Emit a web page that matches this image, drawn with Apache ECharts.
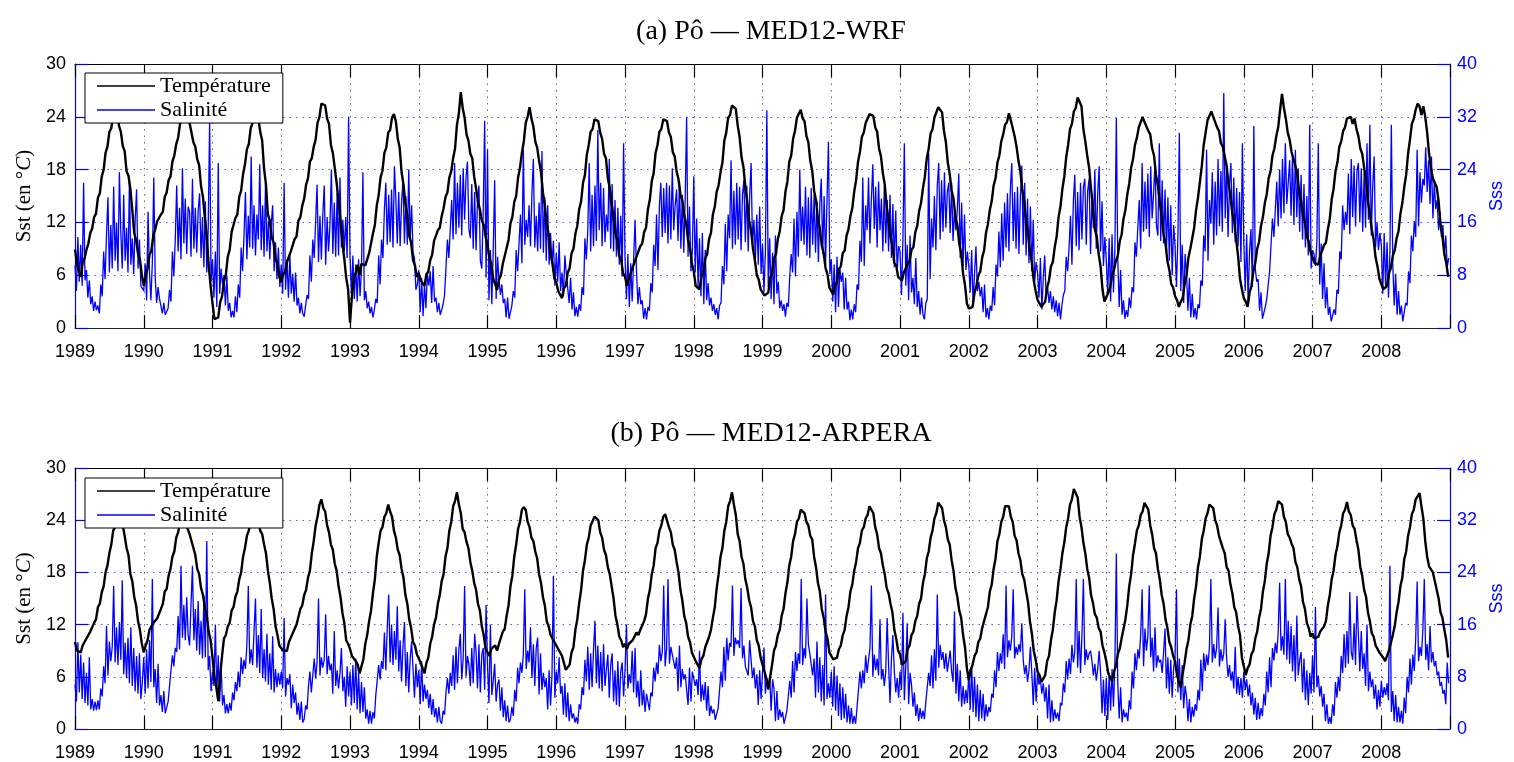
<!DOCTYPE html>
<html>
<head>
<meta charset="utf-8">
<script src="https://cdn.jsdelivr.net/npm/echarts@6/dist/echarts.min.js"></script>
<style>
  html, body { margin: 0; padding: 0; background: #ffffff; }
  #chart { width: 1514px; height: 762px; }
</style>
</head>
<body>
<div id="chart"></div>
<script>
// Po river mouth: sea surface temperature (left axis, °C) and
// sea surface salinity (right axis) for two coupled model runs, 1989–2008.
const START_YEAR = 1989;
const years = [1989, 1990, 1991, 1992, 1993, 1994, 1995, 1996, 1997, 1998,
               1999, 2000, 2001, 2002, 2003, 2004, 2005, 2006, 2007, 2008];
const panelTitles = ['(a) Pô — MED12-WRF', '(b) Pô — MED12-ARPERA'];
const seriesNames = ['Température', 'Salinité'];

// Temperature, one row per year, ~10-day steps (36 per year)
const sstWRF = [
  [8.9,7.4,6.4,5.8,7.4,7.9,8.9,9.6,10.8,11.3,12.6,13.0,14.8,15.3,17.2,18.0,19.9,20.6,22.3,22.7,24.1,24.3,25.4,23.0,22.3,20.7,20.1,17.8,17.3,15.8,13.4,10.8,10.0,8.4,7.8,6.0],
  [4.8,5.9,6.8,8.3,8.8,10.5,11.2,12.1,12.0,12.9,13.2,14.9,15.4,16.8,17.2,18.9,19.6,20.9,21.6,23.2,23.4,24.7,24.6,24.4,23.3,23.1,21.1,20.6,19.2,18.5,16.1,14.9,12.5,10.5,7.1,4.8],
  [2.8,1.0,1.1,1.2,2.9,3.6,5.3,6.1,8.1,8.9,10.9,11.1,12.5,12.9,14.9,15.6,17.5,18.6,20.3,20.9,22.7,23.3,24.4,24.1,23.8,22.3,21.3,18.1,16.3,12.9,12.2,10.3,9.7,7.9,7.3,5.8],
  [5.2,6.1,6.4,7.5,7.7,8.7,8.7,10.1,10.4,12.2,12.6,13.9,14.7,16.3,17.0,18.9,19.3,20.6,21.4,23.3,24.0,25.5,25.5,25.3,23.8,23.2,20.8,19.9,18.2,16.5,14.3,12.3,9.6,7.9,5.7,4.4],
  [0.6,3.6,5.9,6.2,7.2,6.0,7.3,7.1,7.1,7.3,8.5,8.7,10.7,11.7,13.9,15.1,17.1,17.9,19.9,20.5,22.2,22.5,23.9,24.3,23.5,21.5,20.5,17.7,16.3,14.1,12.9,10.5,9.7,7.7,7.1,5.8],
  [6.2,5.4,5.4,4.8,6.1,6.4,7.7,8.3,9.9,9.8,11.1,11.4,12.7,13.6,14.9,15.4,17.1,17.8,19.3,20.4,23.1,24.4,26.8,25.0,23.9,22.0,21.3,19.8,19.3,17.2,15.9,14.3,13.5,12.2,11.7,10.4],
  [9.4,8.0,7.2,5.6,5.0,4.3,5.5,6.0,7.3,7.4,9.1,10.0,11.9,12.6,14.3,15.0,17.1,18.2,19.9,21.2,23.3,24.0,25.1,23.8,22.9,21.2,20.5,19.0,17.7,15.4,13.9,11.8,10.7,8.4,7.3,5.6],
  [5.2,4.2,4.0,3.4,4.5,4.8,6.3,6.8,8.5,9.0,10.7,11.6,13.5,14.4,16.5,17.4,19.7,20.8,22.3,22.6,23.7,23.6,23.5,22.2,21.5,19.8,19.3,17.0,15.9,14.0,12.7,10.8,9.9,8.2,7.7,6.2],
  [5.8,4.8,5.6,5.8,6.9,7.0,8.1,8.2,9.3,9.6,10.9,11.4,13.5,14.6,16.7,17.6,19.9,20.8,22.3,22.6,23.7,23.6,23.5,22.2,21.7,20.0,19.5,17.8,16.9,15.2,14.5,12.8,11.9,10.0,9.1,7.4],
  [6.4,4.8,4.6,4.4,5.9,6.2,7.9,8.4,10.1,10.8,12.9,13.8,15.5,16.2,17.7,18.8,21.3,22.2,23.9,24.2,25.3,25.2,24.9,23.0,21.7,19.4,18.3,16.0,14.3,12.2,11.1,9.0,7.7,6.0,5.5,4.4],
  [4.6,3.7,3.8,4.0,5.7,6.2,7.9,8.4,10.1,11.0,12.7,13.4,15.5,16.6,18.9,19.6,21.5,22.4,23.9,24.0,24.8,23.8,23.5,21.8,21.1,19.0,17.9,15.6,14.5,12.4,11.3,9.4,8.5,6.8,6.1,4.6],
  [4.4,3.8,4.9,5.2,6.7,7.0,8.5,8.8,10.5,11.2,12.7,13.6,15.5,16.8,18.9,20.0,21.7,22.2,23.3,23.4,24.3,24.1,24.1,22.8,22.3,20.4,19.5,17.6,16.3,13.8,12.3,10.4,9.3,7.4,7.1,5.8],
  [6.0,5.4,6.3,6.2,7.3,7.6,8.9,9.2,10.9,11.6,13.3,14.2,15.9,17.2,19.3,20.4,22.1,22.6,23.9,24.0,25.1,24.8,24.5,22.4,21.1,18.8,17.5,15.6,14.7,12.6,11.7,9.6,8.5,6.2,4.9,2.8],
  [2.2,2.2,2.4,4.0,4.8,6.0,6.4,8.0,8.8,10.8,11.8,13.4,14.4,16.2,17.0,18.8,19.6,21.2,22.0,23.1,23.4,24.4,23.6,23.4,21.8,20.6,19.0,17.8,15.8,14.4,12.2,10.8,8.8,7.4,5.4,4.2],
  [3.2,3.2,2.4,2.6,3.0,4.6,5.4,7.0,7.5,9.2,10.4,12.6,13.8,15.8,17.2,19.4,20.8,22.6,23.2,24.6,25.0,26.2,26.3,25.2,22.6,21.2,19.6,18.2,15.8,13.8,11.2,10.4,8.4,7.0,4.4,3.0],
  [2.8,4.0,4.6,6.0,6.6,7.6,8.2,9.8,10.6,12.4,13.4,15.2,16.4,18.2,19.2,20.8,21.6,22.8,23.0,24.0,23.4,23.6,22.4,22.0,20.4,19.6,17.4,16.2,14.2,12.8,10.6,9.6,7.6,6.6,5.0,4.6],
  [3.6,3.2,2.4,3.0,3.4,5.0,6.0,8.0,9.0,10.2,11.4,13.4,14.8,16.6,18.4,20.8,22.2,23.6,23.8,24.6,24.0,23.8,22.8,22.4,21.0,20.6,19.5,18.4,16.4,15.0,13.0,12.2,10.0,8.2,5.6,4.4],
  [3.4,3.0,2.4,4.0,4.8,6.4,7.4,9.0,9.8,11.6,12.6,14.2,15.2,17.0,17.8,19.6,20.4,21.8,22.8,24.8,26.6,25.0,23.8,22.2,21.4,20.0,19.8,18.4,17.4,15.4,14.4,12.8,12.0,10.4,9.8,8.6],
  [8.6,7.4,7.2,7.2,8.2,8.4,9.4,9.7,11.2,12.4,14.6,15.8,17.8,18.8,20.6,21.2,22.4,22.8,23.8,23.8,24.0,23.2,23.8,22.6,21.8,20.4,19.8,18.2,16.8,14.4,13.0,11.2,10.0,8.0,7.0,5.6],
  [5.4,4.4,4.6,4.8,6.2,6.8,8.2,8.8,10.2,11.0,13.0,14.2,16.0,17.4,19.8,21.4,23.2,23.8,24.8,25.5,25.2,24.2,25.2,24.0,22.2,19.8,18.2,17.0,16.9,16.0,14.4,11.7,10.4,8.4,7.4,5.8]
];

const sstARPERA = [
  [10.0,9.0,8.9,8.8,9.6,9.6,10.4,10.4,11.2,11.2,12.2,12.6,14.0,14.4,15.7,16.4,18.0,18.8,20.2,21.2,22.8,23.2,24.8,25.6,25.2,23.4,22.2,20.8,20.0,17.8,17.0,15.2,14.2,12.4,11.4,9.8],
  [8.8,9.6,10.2,11.4,11.6,12.2,12.0,12.7,12.6,13.8,14.4,15.8,16.1,17.6,18.4,19.8,20.4,22.0,22.6,23.8,23.8,24.4,23.6,23.4,22.4,22.2,20.8,20.0,18.4,17.8,16.2,15.4,14.0,13.0,11.2,10.2],
  [8.2,6.0,4.8,3.2,6.2,8.4,10.4,10.8,11.8,12.2,13.6,14.0,15.2,15.8,17.2,18.0,19.8,20.8,22.2,22.8,24.0,24.4,25.2,24.2,23.8,22.8,22.4,21.2,20.2,18.2,16.8,15.0,13.8,11.8,10.8,9.6],
  [9.6,9.0,9.0,9.0,10.0,10.0,11.0,11.2,12.0,12.2,13.8,14.2,15.4,16.0,17.4,18.2,20.2,21.6,23.4,24.4,25.8,26.4,25.4,25.0,23.4,22.6,21.2,20.6,19.0,18.2,16.4,15.2,13.4,12.2,10.2,9.8],
  [9.2,8.4,8.6,7.8,7.4,6.4,7.2,8.0,9.8,10.8,12.4,13.6,15.6,17.2,19.8,21.4,22.8,23.2,24.4,24.8,25.8,25.0,24.4,22.8,22.0,20.6,20.0,18.4,17.4,15.4,14.4,12.6,11.6,10.0,9.6,8.6],
  [8.6,7.6,7.4,6.4,7.6,8.2,9.8,10.6,12.0,12.8,14.4,15.4,17.0,17.8,19.8,20.8,22.8,23.8,25.6,26.2,27.2,25.8,24.8,23.0,22.6,21.5,20.8,19.2,18.2,16.8,16.0,14.4,13.6,11.8,10.8,9.2],
  [9.0,8.4,9.2,9.0,9.6,9.0,9.8,10.0,11.2,11.5,13.0,14.2,16.4,17.6,19.8,21.2,23.0,23.8,25.2,25.5,25.2,23.8,23.2,22.0,21.6,20.4,19.6,17.8,16.8,15.2,14.2,12.4,11.8,10.8,10.8,10.0],
  [9.8,9.2,9.2,8.4,8.2,6.8,7.0,7.4,8.8,9.4,11.4,12.6,14.5,16.0,18.2,19.4,21.2,22.0,23.4,23.6,24.4,24.3,24.0,22.6,22.0,20.6,20.0,18.6,17.8,16.4,15.0,13.0,12.0,10.6,10.2,9.4],
  [9.8,9.2,9.8,9.6,10.2,10.2,11.1,10.8,11.4,11.4,12.4,13.2,15.0,16.0,17.8,18.8,20.8,21.4,22.8,23.4,24.4,24.7,24.6,23.2,22.6,21.2,20.6,19.2,18.0,16.0,14.8,13.0,12.2,10.6,10.0,8.8],
  [8.8,7.8,7.6,7.0,8.0,8.4,9.4,9.4,10.6,11.4,12.8,14.0,16.2,17.8,19.8,20.8,22.8,23.8,25.6,26.2,27.2,25.8,24.6,22.4,21.6,19.8,19.0,17.2,16.2,14.8,14.0,12.4,11.8,10.2,9.6,8.2],
  [8.2,6.6,5.8,4.6,6.0,7.4,9.0,9.6,10.8,11.4,13.0,13.8,15.6,16.8,18.8,19.8,21.6,22.4,23.8,24.2,25.2,25.1,24.8,23.8,23.4,22.2,21.8,19.8,18.6,16.8,15.8,13.8,12.8,11.2,10.4,8.8],
  [8.8,8.0,8.2,8.2,9.2,9.6,10.8,11.4,13.0,14.0,15.8,16.6,18.2,19.2,20.8,21.4,22.8,23.2,24.2,24.6,25.6,25.5,24.8,23.2,22.4,20.8,20.2,18.8,17.8,16.2,15.6,14.4,13.4,11.4,10.4,9.0],
  [8.6,7.4,7.4,7.8,9.2,9.6,10.8,11.2,12.4,13.0,14.4,15.0,16.8,17.8,19.6,20.4,22.0,22.8,24.2,24.8,26.0,26.0,25.4,24.0,23.2,21.8,21.2,19.4,18.2,16.2,15.2,13.6,12.8,10.8,9.4,7.0],
  [5.6,6.8,7.4,8.4,8.8,10.0,10.4,11.6,11.8,13.2,14.0,15.8,16.6,18.4,19.6,21.6,22.4,23.8,24.4,25.6,25.8,25.6,24.4,23.8,22.2,21.7,20.2,19.4,17.8,17.2,15.8,14.6,12.4,11.0,9.0,8.0],
  [6.6,6.2,5.4,5.5,6.2,7.8,8.4,10.2,11.4,13.4,14.8,17.0,18.4,20.2,21.4,23.2,24.2,25.8,26.4,27.6,27.5,26.6,24.4,23.2,21.4,20.2,18.4,17.4,15.4,14.5,13.2,12.8,11.6,11.2,9.6,8.8],
  [7.8,6.4,6.2,5.5,6.6,7.2,8.6,9.2,10.4,10.6,12.6,14.2,16.4,17.8,20.0,21.3,22.8,23.4,24.6,25.0,26.0,26.0,25.2,23.4,22.4,20.8,20.2,18.4,17.2,15.4,14.4,12.6,11.6,10.0,9.4,8.4],
  [7.8,6.2,5.4,4.8,6.4,7.6,9.2,10.2,12.0,13.0,15.0,16.4,18.6,19.8,21.8,22.8,24.2,24.8,25.8,25.8,25.4,24.0,23.4,22.2,22.1,20.8,20.2,18.6,18.2,16.6,15.6,14.0,13.4,11.8,10.8,8.2],
  [7.2,6.2,7.0,7.4,8.6,9.0,10.4,11.2,12.8,13.8,15.8,17.0,19.0,20.2,22.2,23.2,24.7,25.2,26.2,26.2,25.8,24.4,23.8,22.4,22.0,21.3,20.8,19.2,18.6,17.2,16.4,14.6,13.8,12.2,11.6,10.6],
  [11.0,10.4,10.6,10.6,11.2,11.0,11.8,12.4,14.2,15.4,17.2,18.2,20.0,21.0,22.6,23.4,24.8,25.2,26.1,25.0,24.6,23.4,23.0,21.7,20.6,18.6,17.6,16.0,15.2,13.4,12.4,11.0,10.6,9.6,9.6,8.8],
  [9.0,8.2,7.8,8.0,9.0,9.2,10.8,11.8,13.4,14.6,16.4,17.4,19.5,20.4,22.2,23.2,24.7,25.2,26.4,26.6,27.1,25.6,24.2,21.6,19.8,18.7,18.8,18.0,17.8,16.0,15.0,13.4,12.8,11.4,10.2,8.2]
];

// Salinity, one row per year, weekly steps (48 per year)
const sssWRF = [
  [9.5,5.6,13.8,7.0, 12.6,6.4,22.0,7.2, 8.8,4.6,7.2,3.6, 4.8,2.6,4.0,2.7, 3.4,2.2,6.6,4.8, 11.6,7.4,14.2,19.8, 8.4,15.6,9.0,21.4, 10.2,16.0,8.6,23.6, 14.4,9.0,20.2,10.2, 15.2,8.4,22.4,9.6, 13.6,8.2,16.4,21.0, 9.0,13.4,6.4,6.3],
  [5.6,9.8,4.2,17.6, 8.4,4.2,10.0,22.8, 7.6,3.8,6.2,4.4, 4.6,2.2,3.8,2.0, 1.7,3.0,5.8,4.0, 11.6,7.8,13.4,21.6, 11.6,18.2,10.4,24.2, 12.8,19.6,11.2,18.4, 17.6,10.8,22.6,12.0, 18.2,11.4,17.8,20.4, 10.6,16.8,9.2,19.2, 8.4,15.2,31.4,7.0],
  [10.4,4.6,11.6,3.2, 25.0,5.2,9.0,6.6, 8.0,3.4,8.0,2.6, 3.8,1.6,2.6,1.6, 4.8,2.4,6.6,4.6, 12.2,8.6,14.0,20.6, 10.4,17.0,12.2,26.0, 12.0,18.6,11.0,17.2, 13.4,24.8,11.8,18.6, 10.8,22.0,11.6,16.2, 10.4,15.8,18.6,8.6, 13.0,7.4,12.2,6.2],
  [9.6,5.2,22.0,5.8, 10.4,4.6,11.0,5.2, 8.2,4.0,8.4,3.4, 4.6,2.2,3.8,2.2, 1.7,3.4,5.0,4.4, 11.0,7.0,13.4,10.6, 16.2,21.7,10.0,17.0, 10.4,17.2,21.6,9.6, 16.8,11.6,15.6,24.0, 11.2,19.0,10.8,20.4, 11.0,22.8,12.2,16.4, 11.6,16.8,10.6,32.0],
  [10.8,5.2,11.0,4.4, 9.6,4.0,10.4,4.8, 8.8,23.6,4.2,5.6, 3.0,4.0,2.2,3.2, 1.6,2.8,4.4,3.8, 11.0,6.6,13.4,10.6, 18.0,22.0,12.6,20.2, 13.0,21.0,12.2,24.5, 19.6,12.8,20.6,12.4, 19.2,22.4,12.8,20.0, 12.6,24.0,13.4,18.6, 11.4,10.6,5.8,6.6],
  [8.8,2.4,7.6,1.8, 6.6,3.0,8.2,6.4, 8.6,3.8,9.4,4.0, 4.6,2.4,3.8,2.0, 1.7,3.6,5.0,5.2, 13.4,10.6,15.0,19.4, 13.4,25.0,14.2,22.0, 15.2,23.2,14.0,24.2, 16.4,22.8,25.2,15.0, 13.6,21.8,12.0,20.6, 11.8,19.2,21.6,10.2, 9.0,17.6,31.4,7.6],
  [27.0,4.2,11.8,3.6, 12.0,22.4,4.4,10.8, 7.4,5.0,6.6,3.8, 4.4,1.6,4.6,1.4, 1.3,3.4,5.6,4.6, 11.8,8.6,12.8,17.2, 9.8,27.0,12.6,16.4, 13.8,18.6,12.4,20.4, 25.6,12.2,17.0,11.6, 19.0,12.0,26.8,11.4, 19.8,10.2,18.6,9.6, 14.4,9.8,13.2,6.4],
  [11.4,7.0,13.0,5.6, 8.4,4.8,11.0,8.2, 8.2,3.8,7.6,2.8, 5.4,1.8,3.2,1.7, 3.6,2.6,6.2,5.0, 13.6,10.4,14.8,25.0, 11.6,20.2,12.4,21.6, 13.2,30.0,14.8,22.0, 12.4,21.2,13.0,17.2, 14.6,25.6,12.0,21.8, 11.6,19.4,10.8,18.2, 9.6,17.0,7.8,28.0],
  [10.6,4.4,11.2,3.2, 9.8,4.0,10.4,16.4, 8.6,3.6,6.2,3.6, 4.2,1.4,3.0,1.3, 3.2,2.6,6.8,5.4, 12.6,9.4,17.2,8.8, 18.6,22.0,13.8,21.2, 14.4,22.0,12.8,21.6, 13.4,24.2,14.8,18.6, 21.0,13.2,22.2,12.0, 20.2,11.4,19.6,32.0, 10.8,18.4,8.6,11.8],
  [23.0,8.4,16.6,6.2, 13.6,4.8,14.4,3.6, 11.8,4.2,6.8,3.4, 4.6,2.6,3.6,2.0, 3.0,1.3,3.4,3.8, 9.4,6.6,15.8,8.6, 17.2,13.6,25.4,12.0, 20.8,12.6,22.0,13.4, 21.4,11.8,20.2,22.4, 13.0,21.6,11.6,20.0, 25.0,12.8,16.4,10.4, 17.2,9.6,18.4,8.2],
  [12.8,5.4,11.6,33.0, 6.2,13.6,4.4,11.4, 3.6,14.0,5.2,7.0, 3.0,4.2,2.6,3.6, 1.7,3.8,3.2,7.8, 11.2,8.4,16.6,7.8, 17.6,10.8,24.0,13.2, 18.4,12.6,21.4,11.0, 19.8,10.6,21.2,12.6, 20.2,11.4,19.2,10.0, 18.8,22.6,11.2,20.0, 9.6,19.4,28.2,8.2],
  [10.4,4.0,9.6,2.4, 10.8,3.2,9.0,7.0, 8.4,2.8,7.6,2.8, 4.0,1.2,2.8,1.3, 3.6,2.4,6.6,5.8, 13.2,10.0,22.8,9.4, 18.6,14.8,22.8,12.8, 19.6,24.8,15.0,21.4, 12.2,22.2,14.8,19.6, 11.6,21.4,12.8,19.4, 11.6,20.2,10.6,18.8, 9.2,17.8,8.6,12.4],
  [11.6,5.0,13.4,28.0, 6.4,12.6,4.2,14.0, 5.4,7.6,3.6,10.6, 3.2,5.6,2.0,4.6, 2.0,1.3,3.8,4.4, 26.5,7.4,16.6,12.2, 20.0,11.8,21.6,25.0, 13.4,22.4,14.6,23.6, 15.2,20.6,22.0,14.4, 22.0,13.2,17.8,14.8, 18.0,23.4,10.6,19.0, 9.4,17.2,8.8,11.6],
  [9.4,5.4,11.8,3.6, 8.2,12.4,5.6,7.0, 4.8,6.2,2.4,6.6, 1.6,3.0,1.3,3.4, 2.6,6.2,3.4,9.6, 7.8,14.6,9.2,17.4, 10.2,19.0,12.2,20.4, 11.6,21.0,25.0,13.2, 20.6,12.0,21.4,11.2, 19.8,24.6,12.6,22.0, 11.0,19.6,9.8,18.4, 8.6,16.4,7.0,10.0],
  [8.4,4.6,10.6,2.8, 7.6,11.0,4.8,6.2, 3.8,5.6,2.8,4.8, 2.4,4.2,1.8,3.8, 1.3,3.4,5.0,5.6, 10.8,8.6,12.2,17.0, 9.6,19.2,23.2,12.4, 20.6,11.8,22.0,13.4, 21.4,22.6,12.6,20.8, 22.6,11.2,19.8,15.2, 24.0,12.0,20.4,24.5, 11.6,19.2,9.4,13.8],
  [10.2,5.2,13.6,4.0, 14.2,5.4,12.0,31.8, 10.6,3.2,8.8,2.0, 4.2,1.4,2.7,1.7, 4.6,3.0,6.2,5.4, 13.0,10.8,15.2,19.4, 12.0,25.0,14.6,22.2, 15.0,23.4,13.8,24.5, 16.6,20.4,25.2,15.6, 14.0,28.0,13.2,22.4, 12.8,21.0,11.4,19.8, 10.2,18.6,8.0,15.6],
  [12.4,6.2,14.0,29.6, 5.6,12.6,3.8,11.2, 8.4,2.6,7.6,1.6, 5.2,1.6,3.0,1.3, 3.6,3.0,7.2,6.4, 14.0,11.6,27.0,10.2, 19.4,15.8,23.6,12.6, 22.2,14.0,25.6,15.4, 23.8,14.6,35.6,16.6, 24.4,13.8,21.8,25.0, 14.4,22.8,13.0,21.2, 12.4,20.6,10.0,28.0],
  [13.0,5.6,14.2,4.0, 11.6,15.0,6.2,30.6, 9.0,7.0,7.4,2.6, 5.4,1.4,1.3,3.2, 4.4,4.2,8.6,8.4, 16.6,13.8,18.0,22.2, 15.4,24.0,16.6,25.6, 17.4,28.0,18.8,22.0, 25.4,17.0,26.2,15.6, 27.0,16.8,24.2,14.6, 23.2,13.4,21.8,12.2, 20.0,11.0,30.8,9.0],
  [11.8,11.2,9.4,13.0, 28.0,6.6,12.8,4.4, 9.8,3.0,6.2,2.0, 3.2,1.0,0.9,2.8, 2.0,5.8,5.2,11.6, 10.4,18.6,14.8,17.6, 15.6,23.4,14.2,25.6, 16.8,24.6,15.4,23.8, 25.0,16.0,24.2,14.6, 23.6,15.2,28.0,16.4, 30.8,14.0,21.6,26.0, 12.2,16.0,11.8,14.4],
  [12.6,5.2,14.4,6.0, 13.0,4.6,11.4,30.8, 9.6,3.4,8.2,2.0, 5.6,2.0,3.4,1.0, 1.3,3.8,3.4,8.6, 6.8,14.0,11.6,16.2, 13.8,27.0,15.4,23.6, 19.0,22.6,21.6,27.4, 20.6,25.4,18.8,26.0, 16.6,22.0,18.0,19.4, 14.8,17.6,13.8,15.6, 11.0,14.0,9.2,10.6]
];

const sssARPERA = [
  [6.8,4.2,13.3,5.6, 11.4,4.6,10.2,4.0, 8.6,3.6,11.0,3.0, 4.6,2.8,4.2,2.9, 4.4,3.0,6.2,5.0, 9.6,7.0,15.8,8.2, 13.4,10.4,12.6,21.9, 10.2,15.6,9.8,16.4, 10.6,22.8,8.4,13.2, 7.8,14.0,7.0,15.6, 6.6,12.4,5.8,11.2, 5.4,11.6,4.6,7.2],
  [11.0,5.4,12.2,6.2, 13.6,7.2,23.0,6.4, 9.2,4.0,10.0,3.6, 5.2,2.6,5.8,2.4, 2.4,4.2,6.6,6.8, 11.3,9.6,12.4,11.8, 17.3,12.2,25.0,14.0, 19.0,13.6,20.2,14.4, 12.8,19.2,25.0,13.6, 18.4,12.0,19.6,11.4, 16.6,10.8,20.4,11.0, 28.8,9.0,11.2,5.8],
  [8.8,6.6,16.0,5.4, 11.3,4.2,9.8,3.6, 5.2,2.4,3.8,2.4, 4.0,2.8,5.6,4.4, 7.2,5.8,8.8,6.4, 11.0,8.4,10.6,9.2, 12.9,21.9,10.0,12.2, 9.8,15.0,20.0,9.4, 14.4,8.6,18.4,7.8, 12.2,7.3,14.6,6.8, 11.6,6.0,14.2,5.6, 9.2,6.4,8.6,6.8],
  [8.8,6.2,17.0,5.0, 7.8,6.8,8.4,3.2, 6.8,4.0,5.6,2.2, 4.0,1.4,4.2,1.0, 1.5,3.6,3.0,6.6, 8.8,5.6,8.2,10.8, 7.7,10.4,20.0,8.2, 11.0,9.4,10.6,17.6, 8.4,11.2,9.0,10.0, 5.4,15.0,6.6,9.0, 6.2,8.6,12.4,5.8, 8.0,3.4,9.6,5.0],
  [8.8,3.6,9.8,4.0, 10.8,3.0,8.6,2.4, 7.2,2.6,6.4,1.6, 3.0,0.8,2.8,0.8, 2.6,1.6,5.2,5.2, 9.8,7.6,10.4,9.2, 14.8,9.0,15.6,20.6, 10.2,16.0,9.8,15.0, 10.6,18.8,8.8,13.6, 7.3,12.8,16.4,6.6, 11.8,5.6,10.8,13.4, 9.2,4.8,10.0,6.4],
  [9.0,3.8,10.4,4.2, 6.8,4.6,6.0,3.2, 5.4,2.2,4.6,1.8, 3.2,1.0,3.4,1.2, 0.8,2.8,2.2,5.6, 7.8,5.4,8.6,6.6, 11.3,6.0,12.6,7.0, 12.2,14.6,7.6,10.8, 21.9,8.0,11.2,9.8, 6.6,12.4,7.0,14.6, 11.8,6.2,13.0,5.6, 11.4,12.4,6.0,19.0],
  [9.8,4.0,16.0,5.2, 7.4,10.0,4.2,6.8, 7.6,2.8,6.4,1.8, 4.4,1.2,3.6,1.0, 1.5,3.4,2.0,6.0, 4.2,9.4,7.0,10.2, 8.6,11.4,21.4,9.2, 12.0,10.2,15.6,7.8, 13.0,6.6,12.4,14.0, 5.3,11.6,6.0,8.6, 6.4,7.8,3.0,9.0, 3.6,8.2,23.5,4.8],
  [8.8,7.0,11.0,5.4, 6.6,2.2,7.0,1.8, 5.6,1.2,3.8,1.6, 2.4,1.0,1.8,0.8, 3.8,3.0,6.4,5.2, 10.6,7.3,12.6,6.0, 11.6,6.4,12.2,16.6, 7.0,12.8,6.2,11.8, 5.8,13.0,6.6,9.2, 11.4,4.8,9.8,11.6, 4.2,9.0,3.7,10.4, 3.4,8.8,10.2,5.0],
  [9.0,16.0,6.2,8.4, 7.0,12.0,5.6,12.4, 4.8,7.4,3.4,9.0, 3.6,6.0,2.6,5.4, 4.2,2.9,5.6,5.0, 9.4,7.3,10.2,8.4, 12.9,10.4,11.8,22.0, 9.6,12.2,23.0,10.0, 12.6,11.4,11.6,9.2, 11.0,5.8,12.8,6.4, 9.2,7.6,8.4,6.0, 3.7,9.4,4.2,8.8],
  [8.8,6.6,7.6,5.2, 12.0,4.2,6.8,4.4, 7.2,2.8,6.6,2.0, 3.6,2.4,3.0,1.4, 1.5,3.2,3.0,8.8, 6.4,12.6,7.4,14.0, 10.5,13.2,12.6,22.0, 11.2,14.0,13.0,13.6, 12.4,21.6,10.8,12.8, 9.6,9.8,8.2,13.6, 10.6,7.8,9.4,6.2, 8.4,3.7,9.0,4.6],
  [8.8,12.5,5.4,7.8, 6.0,8.0,2.8,7.6, 6.2,1.2,5.8,1.4, 3.0,1.8,2.6,0.8, 0.8,2.8,2.6,7.4, 4.8,10.4,5.6,11.8, 8.9,11.6,10.0,23.0, 9.8,12.4,10.8,20.0, 13.0,11.6,11.4,8.2, 10.8,4.8,13.4,5.6, 11.0,4.2,9.8,3.6, 20.6,4.6,7.0,4.8],
  [8.8,3.4,9.6,2.8, 8.2,2.0,7.0,1.4, 6.4,1.6,5.4,1.0, 3.6,0.8,3.2,0.8, 2.0,0.8,3.4,3.6, 8.8,6.2,9.0,7.0, 11.3,8.6,10.6,12.4, 22.0,8.0,11.4,9.0, 10.8,8.2,16.8,7.6, 9.2,6.6,8.8,17.0, 9.8,4.0,10.8,14.4, 8.8,5.6,7.8,4.8],
  [8.8,6.0,17.8,4.4, 9.6,16.2,3.8,8.6, 6.8,3.4,5.6,2.0, 3.8,1.2,3.2,1.6, 2.8,1.5,4.2,4.2, 8.6,6.6,11.3,6.2, 12.2,7.4,20.6,9.4, 12.9,10.6,11.8,9.2, 11.6,8.8,10.4,12.0, 8.8,7.2,18.0,5.4, 10.0,4.2,9.0,3.4, 6.6,3.8,6.0,4.0],
  [8.8,3.0,9.8,2.6, 8.0,1.8,6.8,1.2, 6.0,1.6,5.4,1.2, 3.8,1.9,3.4,2.6, 5.4,4.8,9.0,6.4, 11.8,8.9,11.6,10.0, 14.5,9.2,22.0,11.0, 13.6,12.0,14.2,21.4, 10.8,12.6,11.4,13.0, 11.8,16.2,10.6,8.4, 9.8,7.2,9.0,12.6, 8.6,3.7,9.4,4.2],
  [8.8,6.8,7.6,5.4, 7.0,4.2,6.4,1.6, 6.8,1.0,4.4,1.2, 3.0,1.6,2.5,1.2, 4.0,3.6,7.0,5.6, 10.4,7.6,10.8,8.4, 12.9,10.2,11.8,23.0, 9.4,15.0,8.6,14.4, 23.0,9.8,12.2,10.6, 11.6,12.0,10.4,8.2, 10.0,7.4,9.2,12.0, 8.6,2.4,7.6,2.0],
  [7.8,1.4,8.6,2.8, 9.2,3.4,10.0,26.9, 7.0,1.6,6.4,1.0, 3.0,1.8,2.5,1.2, 4.4,3.0,8.8,6.2, 11.6,9.0,12.2,10.8, 14.5,21.4,9.6,15.4, 12.0,14.2,22.0,11.0, 14.0,8.8,15.6,9.4, 11.3,10.2,10.6,8.6, 11.8,15.4,6.2,11.0, 5.4,10.6,4.8,9.3],
  [11.3,21.4,5.6,10.8, 4.4,9.8,3.2,6.6, 5.0,1.2,4.6,1.0, 3.4,1.9,3.8,2.8, 6.0,4.4,10.6,5.8, 11.6,8.9,11.4,9.8, 12.6,23.0,10.2,13.0, 10.8,12.4,18.6,9.6, 12.2,10.4,11.6,16.8, 10.8,8.0,9.8,7.4, 8.8,6.2,12.6,5.4, 8.0,5.2,7.8,4.8],
  [8.8,6.0,7.6,5.0, 6.8,3.6,5.6,2.2, 4.8,1.4,4.0,1.5, 3.2,2.0,5.4,3.6, 8.8,5.6,11.0,6.4, 12.4,10.5,13.2,11.6, 14.8,22.4,12.0,14.2, 11.4,23.0,10.6,16.6, 10.0,15.8,8.8,14.4, 7.3,17.4,8.2,10.6, 11.8,5.6,10.8,4.4, 9.0,3.7,8.6,5.4],
  [11.3,5.6,18.7,6.4, 8.2,5.0,6.6,3.4, 5.4,1.2,3.8,0.8, 1.8,0.8,3.8,2.0, 7.2,4.8,8.0,5.8, 11.2,8.6,14.5,9.4, 15.0,10.0,21.0,11.8, 10.6,16.2,9.8,20.4, 14.4,8.8,15.0,9.2, 11.6,6.6,16.0,5.8, 8.8,6.4,7.6,4.6, 6.8,3.0,6.0,3.4],
  [7.4,4.8,6.4,5.2, 7.0,4.4,25.0,2.6, 5.8,1.2,5.2,1.0, 3.4,1.0,2.8,0.8, 4.8,2.4,8.0,5.6, 10.8,6.8,11.4,8.9, 13.8,22.6,10.4,12.6, 11.2,15.2,23.0,10.6, 13.0,9.0,15.8,10.2, 11.8,9.6,10.4,8.2, 8.8,6.6,7.2,5.4, 6.0,3.8,10.2,7.0]
];

// Place each yearly row on a fractional-year time axis
function toPoints(rows) {
  const pts = [];
  rows.forEach((row, y) => {
    row.forEach((v, k) => pts.push([START_YEAR + y + k / row.length, v]));
  });
  return pts;
}

const BLUE = '#0000ff';
const SERIF = '"Liberation Serif", "Times New Roman", serif';
const SANS = '"Liberation Sans", Arial, Helvetica, sans-serif';

const grids = [
  { left: 75, right: 57, top: 64, height: 264 },
  { left: 75, right: 57, top: 468, height: 265 }
];

function bottomAxis(gridIndex) {
  return {
    type: 'value', gridIndex, position: 'bottom',
    min: START_YEAR, max: START_YEAR + years.length, interval: 1,
    axisLine: { show: true, onZero: false, lineStyle: { color: '#222', width: 1 } },
    axisTick: { show: true, inside: true, length: 13, lineStyle: { color: '#000', width: 1.2 } },
    axisLabel: {
      show: true, margin: 15, color: '#000', fontFamily: SANS, fontSize: 18,
      formatter: v => (years.indexOf(v) >= 0 ? String(v) : '')
    },
    splitLine: { show: true, lineStyle: { color: '#666', width: 1, type: [1.5, 5] } }
  };
}
function topAxis(gridIndex) {
  return {
    type: 'value', gridIndex, position: 'top',
    min: START_YEAR, max: START_YEAR + years.length, interval: 1,
    axisLine: { show: true, onZero: false, lineStyle: { color: '#000', width: 1 } },
    axisTick: { show: true, inside: true, length: 13, lineStyle: { color: '#000', width: 1.2 } },
    axisLabel: { show: false },
    splitLine: { show: false }
  };
}
function leftAxis(gridIndex) {
  return {
    type: 'value', gridIndex, position: 'left',
    min: 0, max: 30, interval: 6,
    name: '{a|Sst (en °}{b|C}{a|)}',
    nameLocation: 'middle', nameGap: 38, nameRotate: 90,
    nameTextStyle: {
      rich: {
        a: { fontFamily: SERIF, fontSize: 21, color: '#000' },
        b: { fontFamily: SERIF, fontSize: 21, fontStyle: 'italic', color: '#000' }
      }
    },
    axisLine: { show: true, onZero: false, lineStyle: { color: BLUE, width: 1.2 } },
    axisTick: { show: true, inside: true, length: 13, lineStyle: { color: BLUE, width: 1.2 } },
    axisLabel: { margin: 9, color: '#000', fontFamily: SANS, fontSize: 18 },
    splitLine: { show: true, lineStyle: { color: '#5555ff', width: 1, type: [1.5, 5] } }
  };
}
function rightAxis(gridIndex) {
  return {
    type: 'value', gridIndex, position: 'right',
    min: 0, max: 40, interval: 8,
    name: 'Sss',
    nameLocation: 'middle', nameGap: 36, nameRotate: 90,
    nameTextStyle: { fontFamily: SANS, fontSize: 18, color: BLUE },
    axisLine: { show: true, onZero: false, lineStyle: { color: BLUE, width: 1.2 } },
    axisTick: { show: true, inside: true, length: 13, lineStyle: { color: BLUE, width: 1.2 } },
    axisLabel: { margin: 7, color: BLUE, fontFamily: SANS, fontSize: 18 },
    splitLine: { show: false }
  };
}

function legendBox(top) {
  return {
    data: seriesNames,
    orient: 'vertical',
    left: 85, top: top,
    icon: 'rect', itemWidth: 58, itemHeight: 1.6, itemGap: 2,
    padding: [2, 12, 2, 12],
    backgroundColor: '#ffffff', borderColor: '#000', borderWidth: 1, borderRadius: 0,
    selectedMode: false,
    textStyle: { fontFamily: SERIF, fontSize: 22, color: '#000', lineHeight: 20, padding: [0, 0, 0, 0] }
  };
}

function titleText(text, top) {
  return {
    text, left: 766, top, textAlign: 'center',
    textStyle: { fontFamily: SERIF, fontSize: 28, fontWeight: 'normal', color: '#000', lineHeight: 30 }
  };
}

function lineSeries(name, data, xi, yi, color, width, z) {
  return {
    name, type: 'line', xAxisIndex: xi, yAxisIndex: yi,
    data, showSymbol: false, symbol: 'none', color,
    itemStyle: { color },
    lineStyle: { color, width },
    z, silent: true
  };
}

const chart = echarts.init(document.getElementById('chart'), null, { renderer: 'canvas' });
chart.setOption({
  animation: false,
  backgroundColor: '#ffffff',
  title: [titleText(panelTitles[0], 12), titleText(panelTitles[1], 414)],
  legend: [legendBox(73), legendBox(478)],
  grid: grids,
  xAxis: [bottomAxis(0), topAxis(0), bottomAxis(1), topAxis(1)],
  yAxis: [leftAxis(0), rightAxis(0), leftAxis(1), rightAxis(1)],
  series: [
    lineSeries(seriesNames[1], toPoints(sssWRF), 0, 1, BLUE, 1.3, 2),
    lineSeries(seriesNames[0], toPoints(sstWRF), 0, 0, '#000000', 2.4, 3),
    lineSeries(seriesNames[1], toPoints(sssARPERA), 2, 3, BLUE, 1.3, 2),
    lineSeries(seriesNames[0], toPoints(sstARPERA), 2, 2, '#000000', 2.4, 3)
  ]
});
</script>
</body>
</html>
